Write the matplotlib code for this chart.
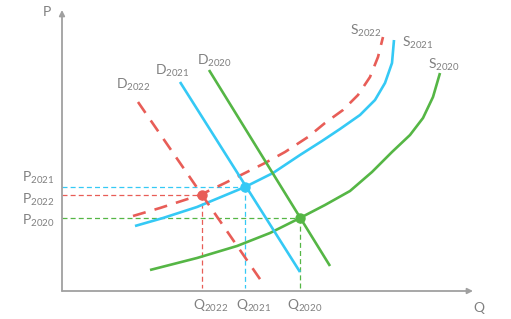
import matplotlib
matplotlib.use("Agg")
import matplotlib.pyplot as plt

plt.rcParams['font.family'] = ['Lato', 'DejaVu Sans']
plt.rcParams['mathtext.fontset'] = 'custom'
plt.rcParams['mathtext.rm'] = 'Lato'
plt.rcParams['mathtext.it'] = 'Lato'

BLUE = '#35C9F5'
GREEN = '#55B645'
RED = '#E85D57'
GRAY = '#808080'
AXIS = '#A0A0A0'

# Supply curves (Q, P)
s2020_q = [88, 135, 175, 208, 238, 263, 288, 310, 330, 348, 361, 371, 378]
s2020_p = [21, 33, 45, 58, 73, 86, 100, 119, 139, 156, 173, 194, 218]
s2021_q = [73, 101, 135, 183, 211, 238, 260, 278, 298, 313, 323, 330, 332]
s2021_p = [65, 73, 84, 104, 118, 136, 150, 162, 176, 191, 208, 228, 251]
s2022_q = [71, 98, 138, 163, 183, 203, 223, 246, 263, 281, 296, 308, 316, 321]
s2022_p = [75, 83, 96, 108, 118, 128, 139, 154, 168, 181, 196, 214, 234, 254]

# Demand lines (Q, P)
d2020_q = [147, 268]
d2020_p = [221, 25]
d2021_q = [118, 238]
d2021_p = [209, 19]
d2022_q = [76, 200]
d2022_p = [189, 9]

# Equilibria
eq_q = {'2020': 238, '2021': 183, '2022': 140}
eq_p = {'2020': 73, '2021': 104, '2022': 96}
colors = {'2020': GREEN, '2021': BLUE, '2022': RED}

fig = plt.figure(figsize=(5.11, 3.19), dpi=100)
ax = fig.add_axes([0, 0, 1, 1])
ax.set_xlim(-62, 449)
ax.set_ylim(-28, 291)
ax.axis('off')

# axes arrows
ax.annotate('', xy=(411, 0), xytext=(0, 0),
            arrowprops=dict(arrowstyle='-|>', color=AXIS, lw=1.3,
                            mutation_scale=8, shrinkA=0, shrinkB=0))
ax.annotate('', xy=(0, 281), xytext=(0, 0),
            arrowprops=dict(arrowstyle='-|>', color=AXIS, lw=1.3,
                            mutation_scale=8, shrinkA=0, shrinkB=0))

# guide lines
for y in ['2020', '2021', '2022']:
    q, p = eq_q[y], eq_p[y]
    ax.plot([0, q], [p, p], color=colors[y], lw=0.9, ls=(0, (4, 2.5)), zorder=2)
    ax.plot([q, q], [p, 3], color=colors[y], lw=0.9, ls=(0, (4, 2.5)), zorder=2)

lw = 1.9
kw = dict(solid_joinstyle='round', dash_joinstyle='round', zorder=3)
ax.plot(s2020_q, s2020_p, color=GREEN, lw=lw, solid_capstyle='butt', **kw)
ax.plot(s2021_q, s2021_p, color=BLUE, lw=lw, solid_capstyle='butt', **kw)
ax.plot(s2022_q, s2022_p, color=RED, lw=lw, ls=(0, (5, 3.5)), **kw)
ax.plot(d2020_q, d2020_p, color=GREEN, lw=lw, solid_capstyle='butt', **kw)
ax.plot(d2021_q, d2021_p, color=BLUE, lw=lw, solid_capstyle='butt', **kw)
ax.plot(d2022_q, d2022_p, color=RED, lw=lw, ls=(0, (5, 3.5)), **kw)

for y in ['2020', '2021', '2022']:
    ax.plot(eq_q[y], eq_p[y], 'o', color=colors[y], ms=6.5, zorder=5)

fs = 10
def lab(x, y, main, sub):
    ax.text(x, y, r'$\mathrm{%s}_{\mathrm{%s}}$' % (main, sub), color=GRAY,
            fontsize=fs, ha='left', va='top')

lab(54, 214, 'D', '2022')
lab(93, 228, 'D', '2021')
lab(135, 238, 'D', '2020')
lab(288, 268, 'S', '2022')
lab(340, 256, 'S', '2021')
lab(366, 234, 'S', '2020')
lab(-40, 121, 'P', '2021')
lab(-40, 99, 'P', '2022')
lab(-40, 78, 'P', '2020')
lab(131, -7, 'Q', '2022')
lab(174, -7, 'Q', '2021')
lab(225, -7, 'Q', '2020')
ax.text(-19, 285, 'P', color=GRAY, fontsize=fs, ha='left', va='top')
ax.text(411, -11, 'Q', color=GRAY, fontsize=fs, ha='left', va='top')

fig.savefig('out.png', dpi=100)
